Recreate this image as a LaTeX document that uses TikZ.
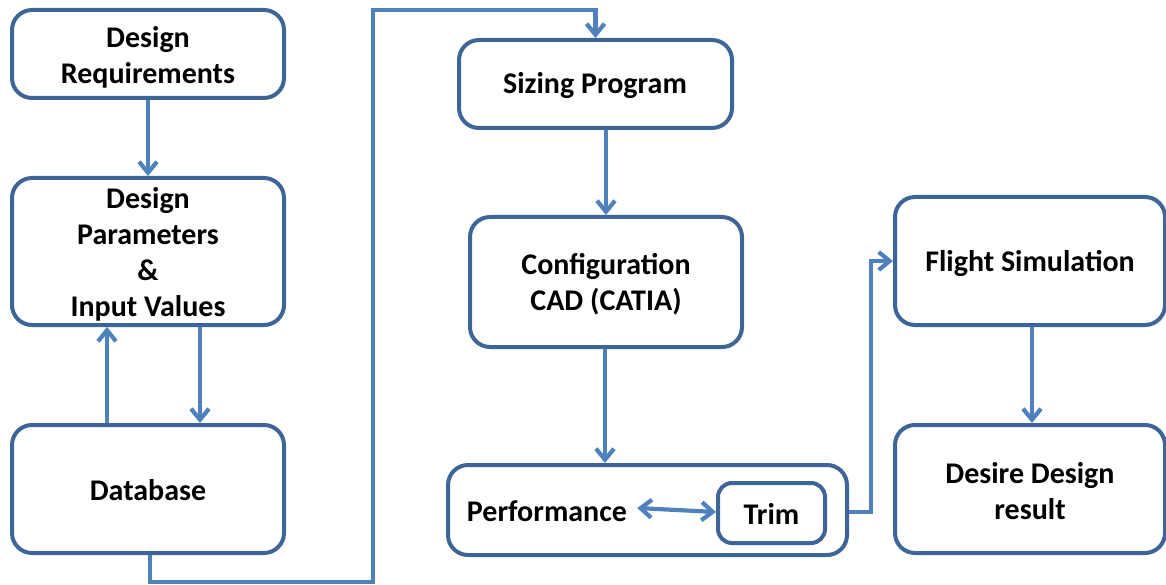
\documentclass[tikz,border=0pt]{standalone}
\usepackage{fontspec}
\setmainfont{Carlito}
\usetikzlibrary{arrows.meta}
\definecolor{boxline}{HTML}{3D6597}
\definecolor{flowline}{HTML}{4F81BD}
\tikzset{
  block/.style={draw=boxline, line width=4pt, rounded corners=20pt, fill=white,
    inner sep=0pt},
  label/.style={align=center, inner sep=0pt,
    font=\fontsize{30}{36}\selectfont\bfseries},
  tip/.tip={Straight Barb[length=11pt,width=18pt]},
  flow/.style={draw=flowline, line width=4.2pt, -tip},
  flowboth/.style={draw=flowline, line width=4.2pt, tip-tip},
}
\begin{document}
\begin{tikzpicture}[x=1pt,y=-1pt]
\useasboundingbox (0,0) rectangle (1166,585);

% left column
\node[block, minimum width=272pt, minimum height=88pt] (req) at (148,54) {};
\node[label] (reqtxt) at (148,57) {Design\\Requirements};
\node[block, minimum width=272pt, minimum height=147pt] (par) at (148,251.5) {};
\node[label] (partxt) at (148,254) {Design\\Parameters\\\&\\Input Values};
\node[block, minimum width=272pt, minimum height=128pt] (db) at (148,489) {};
\node[label] (dbtxt) at (148,490) {Database};

% middle column
\node[block, minimum width=273pt, minimum height=88pt] (size) at (595.5,84) {};
\node[label] (sizetxt) at (595,86) {Sizing Program};
\node[block, minimum width=272pt, minimum height=130pt] (cad) at (606,282) {};
\node[label] (cadtxt) at (606,284) {Configuration\\CAD (CATIA)};
\node[block, minimum width=399pt, minimum height=90pt] (perf) at (647.5,510) {};
\node[label] (perftxt) at (547,511) {Performance};
\node[block, rounded corners=14pt, minimum width=107pt, minimum height=60pt] (trim)
  at (771.5,513) {};
\node[label] (trimtxt) at (771.5,514) {Trim};

% right column
\node[block, minimum width=270pt, minimum height=128pt] (flight) at (1030,261) {};
\node[label] (flighttxt) at (1030,263) {Flight Simulation};
\node[block, minimum width=270pt, minimum height=128pt] (result) at (1030,489) {};
\node[label] (resulttxt) at (1030,491) {Desire Design\\result};

% routing points of the long feedback line
\coordinate (lb) at (373,582);
\coordinate (lt) at (373,10);
\coordinate (jog) at (871,400);

% connectors
\draw[flow] (req.south) -- (par.north);
\draw[flow] ([xshift=-41pt]db.north) -- ([xshift=-41pt]par.south);
\draw[flow] ([xshift=52pt]par.south) -- ([xshift=52pt]db.north);
\draw[flow] ([xshift=2pt]db.south) |- (lb) -- (lt) -| (size.north);
\draw[flow] (cad.north |- size.south) -- (cad.north);
\draw[flow] ([xshift=-1pt]cad.south) -- ([xshift=-1pt]cad.south |- perf.north);
\draw[flowboth] ([xshift=10pt,yshift=3pt]perftxt.east) -- ([yshift=1pt]trim.west);
\draw[flow] ([yshift=-2pt]perf.east) -| (jog) |- (flight.west);
\draw[flow] ([xshift=2pt]flight.south) -- ([xshift=2pt]result.north);
\end{tikzpicture}
\end{document}
